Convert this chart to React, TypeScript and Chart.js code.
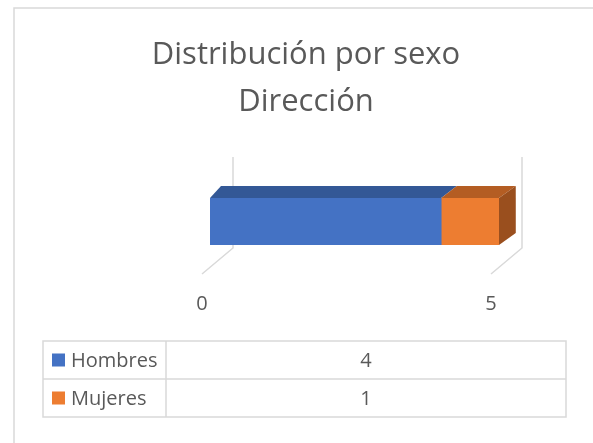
import React, { useEffect, useRef } from "react";
import { Chart, registerables } from "chart.js";

Chart.register(...registerables);

const titleLines = ["Distribución por sexo", "Dirección"];
const categories = ["Dirección"];
const seriesNames = ["Hombres", "Mujeres"];
const hombres = [4];
const mujeres = [1];
const tickValues = [0, 5];
const axisMin = 0;
const axisMax = 5;

const FRONT = ["#4472C4", "#ED7D31"];
const TOP = ["#335896", "#B45D23"];
const SIDE = ["#2A4A80", "#9A4F1E"];
const GRID = "#D9D9D9";
const TEXT = "#595959";
const FONT = "'Open Sans', Lato, sans-serif";

const depthDx = (x: number, x0: number) => 11 + (x - x0) * 0.02;
const DEPTH_DY = 12;

const deco = {
  id: "deco",
  beforeDatasetsDraw(chart: any) {
    const { ctx } = chart;
    const xs = chart.scales.x;
    ctx.save();
    // frame
    ctx.strokeStyle = GRID;
    ctx.lineWidth = 1.5;
    ctx.strokeRect(14, 8, 700, 700);
    // title
    ctx.fillStyle = TEXT;
    ctx.font = `31px ${FONT}`;
    ctx.textAlign = "center";
    ctx.textBaseline = "alphabetic";
    titleLines.forEach((t, i) => ctx.fillText(t, 306, 64 + i * 47));
    // walls
    ctx.strokeStyle = GRID;
    ctx.lineWidth = 1.5;
    tickValues.forEach((v) => {
      const px = xs.getPixelForValue(v);
      ctx.beginPath();
      ctx.moveTo(px + 23, 157);
      ctx.lineTo(px + 23, 248);
      ctx.lineTo(px - 8, 274);
      ctx.stroke();
    });
    // tick labels
    ctx.fillStyle = TEXT;
    ctx.font = `20px ${FONT}`;
    ctx.textBaseline = "middle";
    tickValues.forEach((v) => {
      const px = xs.getPixelForValue(v);
      ctx.fillText(String(v), px - 8, 304);
    });
    // data table
    const L = 43, R = 566, T = 341, M = 379, B = 417, C = 166;
    ctx.strokeStyle = GRID;
    ctx.lineWidth = 1.5;
    ctx.strokeRect(L, T, R - L, B - T);
    ctx.beginPath();
    ctx.moveTo(L, M); ctx.lineTo(R, M);
    ctx.moveTo(C, T); ctx.lineTo(C, B);
    ctx.stroke();
    const vals = [hombres[0], mujeres[0]];
    seriesNames.forEach((n, i) => {
      const cy = (i === 0 ? (T + M) / 2 : (M + B) / 2);
      ctx.fillStyle = FRONT[i];
      ctx.fillRect(52, cy - 6.5, 13, 13);
      ctx.fillStyle = TEXT;
      ctx.font = `20px ${FONT}`;
      ctx.textAlign = "left";
      ctx.fillText(n, 71, cy + 1);
      ctx.textAlign = "center";
      ctx.fillText(String(vals[i]), (C + R) / 2, cy + 1);
    });
    ctx.restore();
  },
  afterDatasetsDraw(chart: any) {
    const { ctx } = chart;
    ctx.save();
    const metas = chart.getSortedVisibleDatasetMetas();
    const x0 = chart.scales.x.getPixelForValue(axisMin);
    metas.forEach((meta: any, di: number) => {
      meta.data.forEach((bar: any) => {
        const { x, base, y, height } = bar.getProps(["x", "base", "y", "height"], true);
        const top = y - height / 2;
        const bottom = y + height / 2;
        const a = Math.min(x, base), b = Math.max(x, base);
        ctx.fillStyle = TOP[di];
        ctx.beginPath();
        ctx.moveTo(a, top);
        ctx.lineTo(b, top);
        ctx.lineTo(b + depthDx(b, x0), top - DEPTH_DY);
        ctx.lineTo(a + depthDx(a, x0), top - DEPTH_DY);
        ctx.closePath();
        ctx.fill();
        if (di === metas.length - 1) {
          const d = depthDx(b, x0);
          ctx.fillStyle = SIDE[di];
          ctx.beginPath();
          ctx.moveTo(b, top);
          ctx.lineTo(b + d, top - DEPTH_DY);
          ctx.lineTo(b + d, bottom - DEPTH_DY);
          ctx.lineTo(b, bottom);
          ctx.closePath();
          ctx.fill();
        }
      });
    });
    ctx.restore();
  },
};

export default function App() {
  const ref = useRef<HTMLCanvasElement>(null);
  useEffect(() => {
    if (!ref.current) return;
    const chart = new Chart(ref.current, {
      type: "bar",
      data: {
        labels: categories,
        datasets: [
          { label: seriesNames[0], data: hombres, backgroundColor: FRONT[0], borderWidth: 0 },
          { label: seriesNames[1], data: mujeres, backgroundColor: FRONT[1], borderWidth: 0 },
        ],
      },
      options: {
        indexAxis: "y",
        responsive: false,
        animation: false,
        events: [],
        layout: { padding: { left: 210, right: 94, top: 198, bottom: 198 } },
        datasets: { bar: { categoryPercentage: 1, barPercentage: 1 } },
        scales: {
          x: { stacked: true, min: axisMin, max: axisMax, display: false },
          y: { stacked: true, display: false },
        },
        plugins: { legend: { display: false }, title: { display: false }, tooltip: { enabled: false } },
      },
      plugins: [deco],
    });
    return () => chart.destroy();
  }, []);
  return (
    <div style={{ position: "absolute", left: 0, top: 0, width: 593, height: 443, background: "#fff" }}>
      <canvas ref={ref} width={593} height={443} />
    </div>
  );
}
